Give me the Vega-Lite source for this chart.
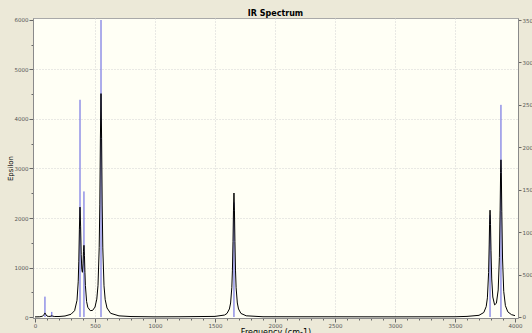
{
  "$schema": "https://vega.github.io/schema/vega-lite/v6.json",
  "width": 485,
  "height": 300,
  "autosize": {"type": "none"},
  "padding": {"left": 33, "top": 18, "right": 14, "bottom": 15},
  "background": "#ECE9D8",
  "title": {"text": "IR Spectrum", "fontSize": 8, "fontWeight": "bold", "font": "DejaVu Sans", "color": "#000000", "offset": 0, "anchor": "middle"},
  "config": {
    "view": {"fill": "#FFFFF5", "stroke": "#A9A9A9"},
    "axis": {"labelFont": "DejaVu Sans", "titleFont": "DejaVu Sans", "labelFontSize": 5.5, "labelColor": "#555555", "domainColor": "#8A8A8A", "tickColor": "#666666", "titleColor": "#000000", "titleFontWeight": "normal", "gridColor": "#D2D2D2", "gridDash": [1, 2], "labelOverlap": false, "labelFlush": false}
  },
  "datasets": {
    "spectrum": [
      {"freq": 0, "eps": 2}, {"freq": 40, "eps": 5}, {"freq": 60, "eps": 15}, {"freq": 70, "eps": 30}, {"freq": 75, "eps": 50}, {"freq": 80, "eps": 75}, {"freq": 83, "eps": 80}, {"freq": 86, "eps": 75}, {"freq": 92, "eps": 45}, {"freq": 100, "eps": 20}, {"freq": 110, "eps": 12}, {"freq": 125, "eps": 12}, {"freq": 135, "eps": 20}, {"freq": 140, "eps": 25}, {"freq": 145, "eps": 20}, {"freq": 160, "eps": 10}, {"freq": 200, "eps": 10}, {"freq": 250, "eps": 20}, {"freq": 300, "eps": 55}, {"freq": 330, "eps": 128}, {"freq": 350, "eps": 337}, {"freq": 360, "eps": 710}, {"freq": 365, "eps": 1127}, {"freq": 370, "eps": 1774}, {"freq": 375, "eps": 2220}, {"freq": 380, "eps": 1836}, {"freq": 385, "eps": 1265}, {"freq": 390, "eps": 958}, {"freq": 395, "eps": 903}, {"freq": 400, "eps": 1072}, {"freq": 404, "eps": 1321}, {"freq": 408, "eps": 1448}, {"freq": 412, "eps": 1243}, {"freq": 416, "eps": 903}, {"freq": 420, "eps": 636}, {"freq": 430, "eps": 312}, {"freq": 440, "eps": 196}, {"freq": 460, "eps": 129}, {"freq": 480, "eps": 133}, {"freq": 500, "eps": 201}, {"freq": 515, "eps": 362}, {"freq": 525, "eps": 640}, {"freq": 535, "eps": 1400}, {"freq": 540, "eps": 2265}, {"freq": 545, "eps": 3614}, {"freq": 550, "eps": 4513}, {"freq": 555, "eps": 3612}, {"freq": 560, "eps": 2262}, {"freq": 565, "eps": 1396}, {"freq": 575, "eps": 631}, {"freq": 585, "eps": 350}, {"freq": 600, "eps": 182}, {"freq": 630, "eps": 75}, {"freq": 700, "eps": 23}, {"freq": 800, "eps": 9}, {"freq": 1000, "eps": 3}, {"freq": 1200, "eps": 5}, {"freq": 1500, "eps": 12}, {"freq": 1580, "eps": 40}, {"freq": 1600, "eps": 72}, {"freq": 1620, "eps": 162}, {"freq": 1630, "eps": 283}, {"freq": 1640, "eps": 591}, {"freq": 1645, "eps": 931}, {"freq": 1650, "eps": 1527}, {"freq": 1654, "eps": 2159}, {"freq": 1658, "eps": 2505}, {"freq": 1662, "eps": 2159}, {"freq": 1666, "eps": 1527}, {"freq": 1671, "eps": 931}, {"freq": 1676, "eps": 591}, {"freq": 1686, "eps": 283}, {"freq": 1696, "eps": 162}, {"freq": 1716, "eps": 72}, {"freq": 1760, "eps": 24}, {"freq": 1900, "eps": 5}, {"freq": 2600, "eps": 4}, {"freq": 3000, "eps": 3}, {"freq": 3500, "eps": 5}, {"freq": 3600, "eps": 12}, {"freq": 3700, "eps": 34}, {"freq": 3740, "eps": 91}, {"freq": 3760, "eps": 210}, {"freq": 3770, "eps": 387}, {"freq": 3780, "eps": 898}, {"freq": 3785, "eps": 1455}, {"freq": 3788, "eps": 1862}, {"freq": 3792, "eps": 2158}, {"freq": 3796, "eps": 1869}, {"freq": 3800, "eps": 1338}, {"freq": 3806, "eps": 768}, {"freq": 3815, "eps": 404}, {"freq": 3830, "eps": 245}, {"freq": 3845, "eps": 277}, {"freq": 3860, "eps": 546}, {"freq": 3870, "eps": 1205}, {"freq": 3876, "eps": 2144}, {"freq": 3880, "eps": 2917}, {"freq": 3883, "eps": 3175}, {"freq": 3886, "eps": 2914}, {"freq": 3890, "eps": 2137}, {"freq": 3896, "eps": 1192}, {"freq": 3906, "eps": 519}, {"freq": 3920, "eps": 229}, {"freq": 3940, "eps": 105}, {"freq": 3970, "eps": 48}, {"freq": 4000, "eps": 28}
    ],
    "sticks": [
      {"freq": 83, "intensity": 240}, {"freq": 140, "intensity": 60}, {"freq": 375, "intensity": 2560}, {"freq": 408, "intensity": 1480}, {"freq": 550, "intensity": 3500}, {"freq": 1658, "intensity": 1350}, {"freq": 3792, "intensity": 1200}, {"freq": 3883, "intensity": 2500}
    ]
  },
  "encoding": {
    "x": {"field": "freq", "type": "quantitative", "scale": {"domain": [-16.7, 4025], "nice": false, "zero": false},
      "axis": {"orient": "bottom", "values": [0,100,200,300,400,500,600,700,800,900,1000,1100,1200,1300,1400,1500,1600,1700,1800,1900,2000,2100,2200,2300,2400,2500,2600,2700,2800,2900,3000,3100,3200,3300,3400,3500,3600,3700,3800,3900,4000],
        "format": "d", "labelExpr": "datum.value % 500 === 0 ? datum.label : ''",
        "tickSize": {"condition": {"test": "datum.value % 500 === 0", "value": 4}, "value": 2},
        "grid": true, "gridOpacity": {"condition": {"test": "datum.value % 500 === 0 && datum.value > 0 && datum.value < 4000", "value": 1}, "value": 0},
        "labelPadding": 1, "labelFlush": false, "labelOverlap": false,
        "title": "Frequency (cm-1)", "titleFontSize": 8, "titlePadding": 0}}
  },
  "layer": [
    {
      "data": {"name": "sticks"},
      "mark": {"type": "rule", "color": "#5A5AE0", "strokeWidth": 1, "clip": true},
      "encoding": {
        "y": {"field": "intensity", "type": "quantitative", "scale": {"domain": [-11.8, 3523.6], "nice": false, "zero": false},
          "axis": {"orient": "right", "values": [0,500,1000,1500,2000,2500,3000,3500], "format": "d", "tickSize": 3, "labelPadding": 1, "grid": false, "title": null, "labelFlush": false, "labelOverlap": false}},
        "y2": {"datum": 0}
      }
    },
    {
      "data": {"name": "spectrum"},
      "mark": {"type": "line", "color": "#000000", "strokeWidth": 1, "clip": true},
      "encoding": {
        "y": {"field": "eps", "type": "quantitative", "scale": {"domain": [-20.2, 6040.4], "nice": false, "zero": false},
          "axis": {"orient": "left", "values": [0,500,1000,1500,2000,2500,3000,3500,4000,4500,5000,5500,6000], "format": "d",
            "labelExpr": "datum.value % 1000 === 0 ? datum.label : ''",
            "tickSize": {"condition": {"test": "datum.value % 1000 === 0", "value": 4}, "value": 2},
            "grid": true, "gridOpacity": {"condition": {"test": "datum.value % 1000 === 0 && datum.value > 0 && datum.value < 6000", "value": 1}, "value": 0},
            "labelPadding": 1, "labelFlush": false, "labelOverlap": false,
            "title": "Epsilon", "titleFontSize": 7, "titlePadding": 1}}
      }
    }
  ],
  "resolve": {"scale": {"y": "independent"}}
}
